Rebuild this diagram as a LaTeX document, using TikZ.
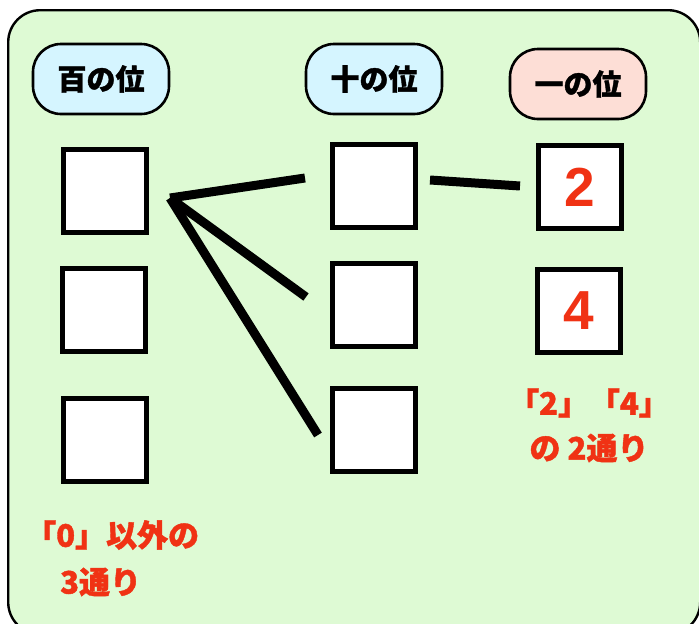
\documentclass[tikz,border=0pt]{standalone}
\usepackage{fontspec}
\newfontfamily\jp{Noto Sans CJK JP}[BoldFeatures={FakeBold=1.3}]
\newfontfamily\digitfont{Liberation Sans}
\definecolor{bggreen}{RGB}{222,250,212}
\definecolor{pillblue}{RGB}{213,245,255}
\definecolor{pillpink}{RGB}{253,222,214}
\definecolor{redtxt}{RGB}{240,50,20}
\begin{document}
\begin{tikzpicture}[x=1pt,y=-1pt,
  pill/.style={draw=black,line width=2.6pt,rounded corners=28pt,minimum width=136pt,minimum height=70pt,inner sep=0pt,font=\jp\bfseries\fontsize{29}{32}\selectfont},
  cell/.style={draw=black,fill=white,line width=5pt,minimum width=83pt,minimum height=83pt,inner sep=0pt},
  link/.style={line width=9pt,line cap=butt},
  note/.style={text=redtxt,font=\jp\bfseries\fontsize{31}{34}\selectfont,inner sep=0pt}]
\useasboundingbox (0,0) rectangle (699,624);
\begin{scope}
\clip (0,0) rectangle (699,624);
\node[draw=black,line width=2.4pt,fill=bggreen,rounded corners=32pt,minimum width=692pt,minimum height=624pt,inner sep=0pt,anchor=north west] (frame) at (7,9) {};
\end{scope}
\node[pill,fill=pillblue] (p1) at (101,79) {百の位};
\node[pill,fill=pillblue] (p2) at (374,79) {十の位};
\node[pill,fill=pillpink] (p3) at (578,84) {一の位};
\node[cell] (a1) at (105,191) {};
\node[cell] (a2) at (104,310) {};
\node[cell] (a3) at (105,440) {};
\node[cell] (b1) at (374,186) {};
\node[cell] (b2) at (374,305) {};
\node[cell] (b3) at (374,430) {};
\node[cell,text=redtxt,font=\digitfont\bfseries\fontsize{55}{60}\selectfont] (c1) at (580,187) {2};
\node[cell,text=redtxt,font=\digitfont\bfseries\fontsize{55}{60}\selectfont] (c2) at (579,311) {4};
\coordinate (hub) at (170,198);
\coordinate (e1) at (305,178);
\coordinate (e2) at (306,297);
\coordinate (e3) at (318,435);
\coordinate (f1) at (430,180);
\coordinate (f2) at (520,186);
\draw[link] (hub) -- (e1);
\draw[link] (hub) -- (e2);
\draw[link] (hub) -- (e3);
\draw[link] (f1) -- (f2);
\node[note] (n1) at (589,403) {「2」「4」};
\node[note] (n2) at (589,448) {の 2通り};
\node[note,anchor=west] (n3) at (25,535) {「0」以外の};
\node[note,anchor=west] (n4) at (60,582) {3通り};
\end{tikzpicture}
\end{document}
